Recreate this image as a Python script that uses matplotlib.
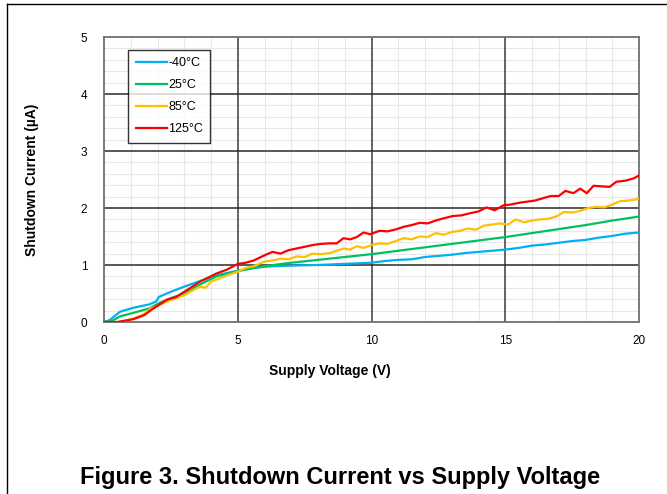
import matplotlib
matplotlib.use("Agg")
import matplotlib.pyplot as plt
from matplotlib.lines import Line2D
from matplotlib.ticker import MultipleLocator

plt.rcParams['font.family'] = ['Liberation Sans', 'DejaVu Sans']

series_labels = ["-40°C", "25°C", "85°C", "125°C"]
series_colors = ["#00b0f0", "#00c060", "#ffc000", "#ff0000"]

v_m40 = [0, 0.2, 0.6, 1.1, 1.7, 1.95, 2.05, 2.5, 3.0, 3.6, 4.2, 5.0, 5.5, 6, 7, 8, 9, 10,
         10.5, 11, 11.5, 12, 12.5, 13, 13.5, 14, 14.5, 15, 15.5, 16, 16.5, 17, 17.5, 18,
         18.5, 19, 19.5, 20]
i_m40 = [0, 0.03, 0.18, 0.25, 0.31, 0.36, 0.44, 0.53, 0.62, 0.72, 0.82, 0.90, 0.94, 0.97,
         0.99, 1.00, 1.02, 1.04, 1.07, 1.09, 1.10, 1.14, 1.16, 1.18, 1.21, 1.23, 1.25, 1.27,
         1.30, 1.34, 1.36, 1.39, 1.42, 1.44, 1.48, 1.51, 1.55, 1.57]

v_25 = [0, 0.3, 0.6, 1.1, 1.7, 2.1, 2.5, 3.0, 3.6, 4.2, 5.0, 5.5, 6, 7, 8, 9, 10, 11, 12,
        13, 14, 15, 16, 17, 18, 19, 20]
i_25 = [0, 0.02, 0.10, 0.16, 0.24, 0.34, 0.42, 0.50, 0.66, 0.80, 0.89, 0.94, 0.98, 1.04,
        1.09, 1.14, 1.19, 1.25, 1.31, 1.37, 1.43, 1.49, 1.56, 1.63, 1.70, 1.78, 1.85]

v_85 = [0, 0.6, 1.1, 1.5, 1.75, 2.0, 2.35, 2.7, 3.0, 3.3, 3.6, 3.8, 4.0, 4.3, 4.6, 5.0, 5.3,
        5.6, 6.0, 6.3, 6.6, 6.9, 7.2, 7.5, 7.8, 8.1, 8.45, 8.7, 8.95, 9.2, 9.45, 9.7, 10.0,
        10.3, 10.6, 10.9, 11.2, 11.5, 11.8, 12.1, 12.4, 12.7, 13.0, 13.3, 13.6, 13.9, 14.2,
        14.5, 14.8, 15.1, 15.4, 15.7, 16.0, 16.3, 16.6, 16.9, 17.2, 17.5, 17.8, 18.1, 18.4,
        18.7, 19.0, 19.3, 19.6, 20.0]
i_85 = [0, 0, 0.06, 0.14, 0.24, 0.28, 0.36, 0.42, 0.47, 0.55, 0.62, 0.60, 0.71, 0.76, 0.82,
        0.88, 0.95, 0.98, 1.06, 1.08, 1.11, 1.10, 1.15, 1.14, 1.20, 1.19, 1.21, 1.25, 1.29,
        1.27, 1.33, 1.30, 1.35, 1.38, 1.37, 1.42, 1.47, 1.45, 1.50, 1.49, 1.56, 1.53, 1.58,
        1.60, 1.64, 1.62, 1.69, 1.71, 1.73, 1.71, 1.80, 1.75, 1.78, 1.80, 1.81, 1.85, 1.93,
        1.92, 1.95, 2.00, 2.02, 2.01, 2.06, 2.12, 2.13, 2.16]

v_125 = [0, 0.5, 1.1, 1.5, 1.85, 2.35, 2.7, 3.0, 3.3, 3.6, 4.2, 4.6, 5.0, 5.3, 5.6, 6.0, 6.3,
         6.6, 6.9, 7.2, 7.5, 7.8, 8.1, 8.45, 8.7, 8.95, 9.2, 9.45, 9.7, 9.95, 10.3, 10.6,
         10.95, 11.2, 11.5, 11.8, 12.1, 12.4, 12.7, 13.05, 13.35, 13.7, 14.0, 14.3, 14.6,
         14.95, 15.2, 15.5, 15.8, 16.1, 16.4, 16.7, 17.0, 17.25, 17.55, 17.8, 18.05, 18.3,
         18.6, 18.9, 19.15, 19.5, 19.8, 20.0]
i_125 = [0, 0, 0.05, 0.12, 0.24, 0.39, 0.44, 0.53, 0.62, 0.71, 0.85, 0.92, 1.02, 1.04, 1.08,
         1.17, 1.23, 1.20, 1.26, 1.29, 1.32, 1.35, 1.37, 1.38, 1.38, 1.47, 1.45, 1.49, 1.57,
         1.54, 1.60, 1.59, 1.63, 1.67, 1.70, 1.74, 1.73, 1.78, 1.82, 1.86, 1.87, 1.91, 1.94,
         2.01, 1.96, 2.05, 2.06, 2.09, 2.11, 2.13, 2.17, 2.21, 2.21, 2.30, 2.26, 2.34, 2.26,
         2.39, 2.38, 2.37, 2.46, 2.48, 2.52, 2.57]

xs = [v_m40, v_25, v_85, v_125]
ys = [i_m40, i_25, i_85, i_125]

fig = plt.figure(figsize=(6.67, 4.94), dpi=100)
ax = fig.add_axes([104/667, 1-322/494, 535/667, 285/494])

for x, y, lab, c in zip(xs, ys, series_labels, series_colors):
    ax.plot(x, y, color=c, lw=1.6, label=lab, zorder=3, solid_joinstyle='round')

ax.set_xlim(0, 20)
ax.set_ylim(0, 5)
ax.xaxis.set_major_locator(MultipleLocator(5))
ax.yaxis.set_major_locator(MultipleLocator(1))
ax.xaxis.set_minor_locator(MultipleLocator(1))
ax.yaxis.set_minor_locator(MultipleLocator(0.2))
ax.grid(which='minor', color='#e8e8e8', lw=0.8)
ax.set_axisbelow(True)
# major grid drawn on top of the minor grid
for xv in ax.get_xticks():
    if 0 < xv < 20:
        ax.axvline(xv, color='#3a3a3a', lw=1.1, zorder=1.5)
for yv in ax.get_yticks():
    if 0 < yv < 5:
        ax.axhline(yv, color='#2a2a2a', lw=1.1, zorder=1.5)

ax.tick_params(which='both', length=0, labelsize=8.5)
ax.tick_params(axis='y', pad=12)
ax.tick_params(axis='x', pad=9)
for s in ax.spines.values():
    s.set_color('#707070')
    s.set_linewidth(1.3)
    s.set_zorder(2)

ax.set_xlabel("Supply Voltage (V)", fontsize=10, fontweight='bold')
ax.xaxis.set_label_coords(0.422, -0.148)
ax.set_ylabel("Shutdown Current (µA)", fontsize=10, fontweight='bold')
ax.yaxis.set_label_coords(-0.122, 0.5)

leg = ax.legend(loc='upper left', bbox_to_anchor=(0.045, 0.955), fontsize=9,
                frameon=True, fancybox=False, edgecolor='black', handlelength=2.5,
                handletextpad=0.1, labelspacing=0.8, borderpad=0.6, borderaxespad=0)
leg.get_frame().set_linewidth(1.0)
leg.set_zorder(5)

fig.text(0.51, 1-477/494, "Figure 3. Shutdown Current vs Supply Voltage", fontsize=17,
         fontweight='bold', ha='center', va='center')

fig.add_artist(Line2D([7/667, 7/667], [0, 1-4/494], color='black', lw=1.0))
fig.add_artist(Line2D([7/667, 1], [1-4/494, 1-4/494], color='black', lw=1.0))

fig.savefig("out.png", dpi=100)
